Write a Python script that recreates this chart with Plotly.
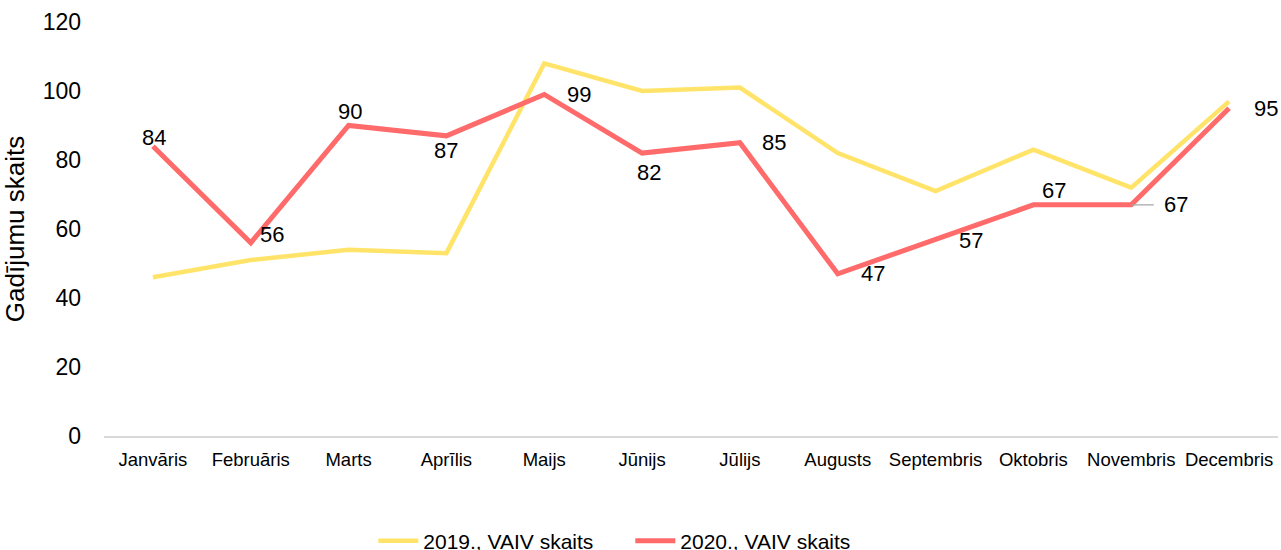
import plotly.graph_objects as go

months = ["Janvāris", "Februāris", "Marts", "Aprīlis", "Maijs", "Jūnijs",
          "Jūlijs", "Augusts", "Septembris", "Oktobris", "Novembris", "Decembris"]
cases_2019 = [46, 51, 54, 53, 108, 100, 101, 82, 71, 83, 72, 97]
cases_2020 = [84, 56, 90, 87, 99, 82, 85, 47, 57, 67, 67, 95]
y_ticks = [0, 20, 40, 60, 80, 100, 120]

name_2019 = "2019., VAIV skaits"
name_2020 = "2020., VAIV skaits"

# label offsets (px) for 2020 data labels: (xshift, yshift)
label_offsets = [(1, 9), (21, 8), (1, 14), (0, -15), (35, 0), (7, -19),
                 (34, 0), (35, 0), (35, -1), (21, 14), None, (37, 0)]

FONT = "Liberation Sans, Arial, sans-serif"

fig = go.Figure()
fig.add_trace(go.Scatter(x=months, y=cases_2019, mode="lines", name=name_2019,
                         line=dict(color="#FFE469", width=4.5)))
fig.add_trace(go.Scatter(x=months, y=cases_2020, mode="lines", name=name_2020,
                         line=dict(color="#FF6B6B", width=5)))

for i, (m, v) in enumerate(zip(months, cases_2020)):
    off = label_offsets[i]
    if off is None:
        fig.add_annotation(x=m, y=v, text=str(v), showarrow=True, ax=45, ay=0,
                           arrowhead=0, arrowwidth=1.2, arrowcolor="#A6A6A6",
                           startstandoff=9,
                           font=dict(size=22, color="#000000", family=FONT))
    else:
        fig.add_annotation(x=m, y=v, text=str(v), showarrow=False,
                           xshift=off[0], yshift=off[1],
                           font=dict(size=22, color="#000000", family=FONT))

fig.update_layout(
    width=1281, height=550,
    margin=dict(l=104, r=3, t=22, b=114, autoexpand=False),
    paper_bgcolor="white", plot_bgcolor="white",
    font=dict(family=FONT, color="#000000"),
    showlegend=True,
    legend=dict(orientation="h", x=0.2294, xanchor="left", y=-0.254, yanchor="middle",
                font=dict(size=21, color="#000000"), itemwidth=40,
                entrywidth=202, entrywidthmode="pixels",
                bgcolor="rgba(0,0,0,0)"),
    xaxis=dict(type="category", range=[-0.5, 11.5], showgrid=False,
               showline=True, linecolor="#D9D9D9", linewidth=2,
               ticks="", tickfont=dict(size=18.5, color="#000000"),
               ticklabelstandoff=6, zeroline=False, fixedrange=True,
               automargin=False),
    yaxis=dict(range=[0, 120], tickvals=y_ticks, showgrid=False, showline=False,
               zeroline=False, ticks="", tickfont=dict(size=23, color="#000000"),
               ticklabelstandoff=22, automargin=False,
               title=dict(text="Gadījumu skaits", font=dict(size=26, color="#000000"),
                          standoff=10)),
)

fig.write_html("out.html", config={"displayModeBar": False},
               post_script="document.body.style.margin='0';document.body.style.overflow='hidden';")
